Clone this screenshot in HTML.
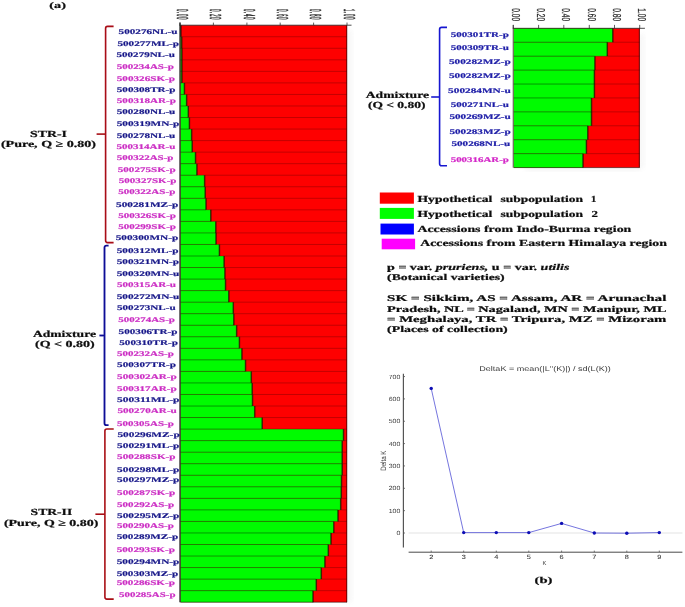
<!DOCTYPE html>
<html><head><meta charset="utf-8"><title>Figure</title>
<style>
html,body{margin:0;padding:0;background:#fff;}
body{width:685px;height:607px;overflow:hidden;font-family:"Liberation Serif",serif;}
svg{display:block;}
</style></head>
<body>
<svg width="685" height="607" viewBox="0 0 685 607" text-rendering="geometricPrecision">
<rect x="0" y="0" width="685" height="607" fill="#ffffff"/>
<defs><filter id="bl" x="-5%" y="-5%" width="110%" height="110%"><feGaussianBlur stdDeviation="0.65"/></filter><filter id="bl2" x="-20%" y="-20%" width="140%" height="140%"><feGaussianBlur stdDeviation="2.5"/></filter></defs>
<rect x="344" y="30" width="8" height="572" fill="#e4e4e4" opacity="0.32" filter="url(#bl2)"/>
<rect x="525" y="166" width="115" height="5" fill="#e4e4e4" opacity="0.35" filter="url(#bl2)"/>
<rect x="638" y="34" width="6" height="134" fill="#e4e4e4" opacity="0.32" filter="url(#bl2)"/>
<g filter="url(#bl)">
<rect x="180.5" y="25.2" width="166.5" height="577.0" fill="#fe0000"/>
<rect x="180.5" y="25.20" width="0.40" height="11.59" fill="#06fb06"/>
<rect x="180.5" y="36.74" width="1.20" height="11.59" fill="#06fb06"/>
<rect x="180.5" y="48.28" width="1.40" height="11.59" fill="#06fb06"/>
<rect x="180.5" y="59.82" width="1.40" height="11.59" fill="#06fb06"/>
<rect x="180.5" y="71.36" width="1.40" height="11.59" fill="#06fb06"/>
<rect x="180.5" y="82.90" width="3.90" height="11.59" fill="#06fb06"/>
<rect x="180.5" y="94.44" width="6.10" height="11.59" fill="#06fb06"/>
<rect x="180.5" y="105.98" width="7.80" height="11.59" fill="#06fb06"/>
<rect x="180.5" y="117.52" width="8.90" height="11.59" fill="#06fb06"/>
<rect x="180.5" y="129.06" width="11.10" height="11.59" fill="#06fb06"/>
<rect x="180.5" y="140.60" width="11.70" height="11.59" fill="#06fb06"/>
<rect x="180.5" y="152.14" width="15.00" height="11.59" fill="#06fb06"/>
<rect x="180.5" y="163.68" width="16.40" height="11.59" fill="#06fb06"/>
<rect x="180.5" y="175.22" width="24.10" height="11.59" fill="#06fb06"/>
<rect x="180.5" y="186.76" width="24.70" height="11.59" fill="#06fb06"/>
<rect x="180.5" y="198.30" width="25.50" height="11.59" fill="#06fb06"/>
<rect x="180.5" y="209.84" width="30.30" height="11.59" fill="#06fb06"/>
<rect x="180.5" y="221.38" width="35.30" height="11.59" fill="#06fb06"/>
<rect x="180.5" y="232.92" width="35.50" height="11.59" fill="#06fb06"/>
<rect x="180.5" y="244.46" width="38.90" height="11.59" fill="#06fb06"/>
<rect x="180.5" y="256.00" width="43.60" height="11.59" fill="#06fb06"/>
<rect x="180.5" y="267.54" width="44.40" height="11.59" fill="#06fb06"/>
<rect x="180.5" y="279.08" width="45.00" height="11.59" fill="#06fb06"/>
<rect x="180.5" y="290.62" width="48.30" height="11.59" fill="#06fb06"/>
<rect x="180.5" y="302.16" width="52.80" height="11.59" fill="#06fb06"/>
<rect x="180.5" y="313.70" width="53.30" height="11.59" fill="#06fb06"/>
<rect x="180.5" y="325.24" width="56.10" height="11.59" fill="#06fb06"/>
<rect x="180.5" y="336.78" width="58.90" height="11.59" fill="#06fb06"/>
<rect x="180.5" y="348.32" width="61.40" height="11.59" fill="#06fb06"/>
<rect x="180.5" y="359.86" width="65.00" height="11.59" fill="#06fb06"/>
<rect x="180.5" y="371.40" width="70.80" height="11.59" fill="#06fb06"/>
<rect x="180.5" y="382.94" width="71.70" height="11.59" fill="#06fb06"/>
<rect x="180.5" y="394.48" width="72.00" height="11.59" fill="#06fb06"/>
<rect x="180.5" y="406.02" width="74.20" height="11.59" fill="#06fb06"/>
<rect x="180.5" y="417.56" width="81.70" height="11.59" fill="#06fb06"/>
<rect x="180.5" y="429.10" width="163.00" height="11.59" fill="#06fb06"/>
<rect x="180.5" y="440.64" width="161.70" height="11.59" fill="#06fb06"/>
<rect x="180.5" y="452.18" width="161.70" height="11.59" fill="#06fb06"/>
<rect x="180.5" y="463.72" width="161.70" height="11.59" fill="#06fb06"/>
<rect x="180.5" y="475.26" width="161.00" height="11.59" fill="#06fb06"/>
<rect x="180.5" y="486.80" width="160.80" height="11.59" fill="#06fb06"/>
<rect x="180.5" y="498.34" width="160.20" height="11.59" fill="#06fb06"/>
<rect x="180.5" y="509.88" width="157.50" height="11.59" fill="#06fb06"/>
<rect x="180.5" y="521.42" width="153.30" height="11.59" fill="#06fb06"/>
<rect x="180.5" y="532.96" width="150.50" height="11.59" fill="#06fb06"/>
<rect x="180.5" y="544.50" width="147.80" height="11.59" fill="#06fb06"/>
<rect x="180.5" y="556.04" width="144.40" height="11.59" fill="#06fb06"/>
<rect x="180.5" y="567.58" width="140.80" height="11.59" fill="#06fb06"/>
<rect x="180.5" y="579.12" width="135.80" height="11.59" fill="#06fb06"/>
<rect x="180.5" y="590.66" width="132.50" height="11.59" fill="#06fb06"/>
<line x1="180.90" y1="25.20" x2="180.90" y2="36.74" stroke="#180800" stroke-opacity="0.7" stroke-width="1.5"/>
<line x1="181.70" y1="36.74" x2="181.70" y2="48.28" stroke="#180800" stroke-opacity="0.7" stroke-width="1.5"/>
<line x1="181.90" y1="48.28" x2="181.90" y2="59.82" stroke="#180800" stroke-opacity="0.7" stroke-width="1.5"/>
<line x1="181.90" y1="59.82" x2="181.90" y2="71.36" stroke="#180800" stroke-opacity="0.7" stroke-width="1.5"/>
<line x1="181.90" y1="71.36" x2="181.90" y2="82.90" stroke="#180800" stroke-opacity="0.7" stroke-width="1.5"/>
<line x1="184.40" y1="82.90" x2="184.40" y2="94.44" stroke="#180800" stroke-opacity="0.7" stroke-width="1.5"/>
<line x1="186.60" y1="94.44" x2="186.60" y2="105.98" stroke="#180800" stroke-opacity="0.7" stroke-width="1.5"/>
<line x1="188.30" y1="105.98" x2="188.30" y2="117.52" stroke="#180800" stroke-opacity="0.7" stroke-width="1.5"/>
<line x1="189.40" y1="117.52" x2="189.40" y2="129.06" stroke="#180800" stroke-opacity="0.7" stroke-width="1.5"/>
<line x1="191.60" y1="129.06" x2="191.60" y2="140.60" stroke="#180800" stroke-opacity="0.7" stroke-width="1.5"/>
<line x1="192.20" y1="140.60" x2="192.20" y2="152.14" stroke="#180800" stroke-opacity="0.7" stroke-width="1.5"/>
<line x1="195.50" y1="152.14" x2="195.50" y2="163.68" stroke="#180800" stroke-opacity="0.7" stroke-width="1.5"/>
<line x1="196.90" y1="163.68" x2="196.90" y2="175.22" stroke="#180800" stroke-opacity="0.7" stroke-width="1.5"/>
<line x1="204.60" y1="175.22" x2="204.60" y2="186.76" stroke="#180800" stroke-opacity="0.7" stroke-width="1.5"/>
<line x1="205.20" y1="186.76" x2="205.20" y2="198.30" stroke="#180800" stroke-opacity="0.7" stroke-width="1.5"/>
<line x1="206.00" y1="198.30" x2="206.00" y2="209.84" stroke="#180800" stroke-opacity="0.7" stroke-width="1.5"/>
<line x1="210.80" y1="209.84" x2="210.80" y2="221.38" stroke="#180800" stroke-opacity="0.7" stroke-width="1.5"/>
<line x1="215.80" y1="221.38" x2="215.80" y2="232.92" stroke="#180800" stroke-opacity="0.7" stroke-width="1.5"/>
<line x1="216.00" y1="232.92" x2="216.00" y2="244.46" stroke="#180800" stroke-opacity="0.7" stroke-width="1.5"/>
<line x1="219.40" y1="244.46" x2="219.40" y2="256.00" stroke="#180800" stroke-opacity="0.7" stroke-width="1.5"/>
<line x1="224.10" y1="256.00" x2="224.10" y2="267.54" stroke="#180800" stroke-opacity="0.7" stroke-width="1.5"/>
<line x1="224.90" y1="267.54" x2="224.90" y2="279.08" stroke="#180800" stroke-opacity="0.7" stroke-width="1.5"/>
<line x1="225.50" y1="279.08" x2="225.50" y2="290.62" stroke="#180800" stroke-opacity="0.7" stroke-width="1.5"/>
<line x1="228.80" y1="290.62" x2="228.80" y2="302.16" stroke="#180800" stroke-opacity="0.7" stroke-width="1.5"/>
<line x1="233.30" y1="302.16" x2="233.30" y2="313.70" stroke="#180800" stroke-opacity="0.7" stroke-width="1.5"/>
<line x1="233.80" y1="313.70" x2="233.80" y2="325.24" stroke="#180800" stroke-opacity="0.7" stroke-width="1.5"/>
<line x1="236.60" y1="325.24" x2="236.60" y2="336.78" stroke="#180800" stroke-opacity="0.7" stroke-width="1.5"/>
<line x1="239.40" y1="336.78" x2="239.40" y2="348.32" stroke="#180800" stroke-opacity="0.7" stroke-width="1.5"/>
<line x1="241.90" y1="348.32" x2="241.90" y2="359.86" stroke="#180800" stroke-opacity="0.7" stroke-width="1.5"/>
<line x1="245.50" y1="359.86" x2="245.50" y2="371.40" stroke="#180800" stroke-opacity="0.7" stroke-width="1.5"/>
<line x1="251.30" y1="371.40" x2="251.30" y2="382.94" stroke="#180800" stroke-opacity="0.7" stroke-width="1.5"/>
<line x1="252.20" y1="382.94" x2="252.20" y2="394.48" stroke="#180800" stroke-opacity="0.7" stroke-width="1.5"/>
<line x1="252.50" y1="394.48" x2="252.50" y2="406.02" stroke="#180800" stroke-opacity="0.7" stroke-width="1.5"/>
<line x1="254.70" y1="406.02" x2="254.70" y2="417.56" stroke="#180800" stroke-opacity="0.7" stroke-width="1.5"/>
<line x1="262.20" y1="417.56" x2="262.20" y2="429.10" stroke="#180800" stroke-opacity="0.7" stroke-width="1.5"/>
<line x1="343.50" y1="429.10" x2="343.50" y2="440.64" stroke="#180800" stroke-opacity="0.7" stroke-width="1.5"/>
<line x1="342.20" y1="440.64" x2="342.20" y2="452.18" stroke="#180800" stroke-opacity="0.7" stroke-width="1.5"/>
<line x1="342.20" y1="452.18" x2="342.20" y2="463.72" stroke="#180800" stroke-opacity="0.7" stroke-width="1.5"/>
<line x1="342.20" y1="463.72" x2="342.20" y2="475.26" stroke="#180800" stroke-opacity="0.7" stroke-width="1.5"/>
<line x1="341.50" y1="475.26" x2="341.50" y2="486.80" stroke="#180800" stroke-opacity="0.7" stroke-width="1.5"/>
<line x1="341.30" y1="486.80" x2="341.30" y2="498.34" stroke="#180800" stroke-opacity="0.7" stroke-width="1.5"/>
<line x1="340.70" y1="498.34" x2="340.70" y2="509.88" stroke="#180800" stroke-opacity="0.7" stroke-width="1.5"/>
<line x1="338.00" y1="509.88" x2="338.00" y2="521.42" stroke="#180800" stroke-opacity="0.7" stroke-width="1.5"/>
<line x1="333.80" y1="521.42" x2="333.80" y2="532.96" stroke="#180800" stroke-opacity="0.7" stroke-width="1.5"/>
<line x1="331.00" y1="532.96" x2="331.00" y2="544.50" stroke="#180800" stroke-opacity="0.7" stroke-width="1.5"/>
<line x1="328.30" y1="544.50" x2="328.30" y2="556.04" stroke="#180800" stroke-opacity="0.7" stroke-width="1.5"/>
<line x1="324.90" y1="556.04" x2="324.90" y2="567.58" stroke="#180800" stroke-opacity="0.7" stroke-width="1.5"/>
<line x1="321.30" y1="567.58" x2="321.30" y2="579.12" stroke="#180800" stroke-opacity="0.7" stroke-width="1.5"/>
<line x1="316.30" y1="579.12" x2="316.30" y2="590.66" stroke="#180800" stroke-opacity="0.7" stroke-width="1.5"/>
<line x1="313.00" y1="590.66" x2="313.00" y2="602.20" stroke="#180800" stroke-opacity="0.7" stroke-width="1.5"/>
<line x1="180.5" y1="36.74" x2="180.90" y2="36.74" stroke="#003000" stroke-opacity="0.5" stroke-width="0.95"/>
<line x1="180.90" y1="36.74" x2="347.0" y2="36.74" stroke="#300000" stroke-opacity="0.3" stroke-width="0.95"/>
<line x1="180.5" y1="48.28" x2="181.70" y2="48.28" stroke="#003000" stroke-opacity="0.5" stroke-width="0.95"/>
<line x1="181.70" y1="48.28" x2="347.0" y2="48.28" stroke="#300000" stroke-opacity="0.3" stroke-width="0.95"/>
<line x1="180.5" y1="59.82" x2="181.90" y2="59.82" stroke="#003000" stroke-opacity="0.5" stroke-width="0.95"/>
<line x1="181.90" y1="59.82" x2="347.0" y2="59.82" stroke="#300000" stroke-opacity="0.3" stroke-width="0.95"/>
<line x1="180.5" y1="71.36" x2="181.90" y2="71.36" stroke="#003000" stroke-opacity="0.5" stroke-width="0.95"/>
<line x1="181.90" y1="71.36" x2="347.0" y2="71.36" stroke="#300000" stroke-opacity="0.3" stroke-width="0.95"/>
<line x1="180.5" y1="82.90" x2="181.90" y2="82.90" stroke="#003000" stroke-opacity="0.5" stroke-width="0.95"/>
<line x1="181.90" y1="82.90" x2="347.0" y2="82.90" stroke="#300000" stroke-opacity="0.3" stroke-width="0.95"/>
<line x1="180.5" y1="94.44" x2="184.40" y2="94.44" stroke="#003000" stroke-opacity="0.5" stroke-width="0.95"/>
<line x1="184.40" y1="94.44" x2="347.0" y2="94.44" stroke="#300000" stroke-opacity="0.3" stroke-width="0.95"/>
<line x1="180.5" y1="105.98" x2="186.60" y2="105.98" stroke="#003000" stroke-opacity="0.5" stroke-width="0.95"/>
<line x1="186.60" y1="105.98" x2="347.0" y2="105.98" stroke="#300000" stroke-opacity="0.3" stroke-width="0.95"/>
<line x1="180.5" y1="117.52" x2="188.30" y2="117.52" stroke="#003000" stroke-opacity="0.5" stroke-width="0.95"/>
<line x1="188.30" y1="117.52" x2="347.0" y2="117.52" stroke="#300000" stroke-opacity="0.3" stroke-width="0.95"/>
<line x1="180.5" y1="129.06" x2="189.40" y2="129.06" stroke="#003000" stroke-opacity="0.5" stroke-width="0.95"/>
<line x1="189.40" y1="129.06" x2="347.0" y2="129.06" stroke="#300000" stroke-opacity="0.3" stroke-width="0.95"/>
<line x1="180.5" y1="140.60" x2="191.60" y2="140.60" stroke="#003000" stroke-opacity="0.5" stroke-width="0.95"/>
<line x1="191.60" y1="140.60" x2="347.0" y2="140.60" stroke="#300000" stroke-opacity="0.3" stroke-width="0.95"/>
<line x1="180.5" y1="152.14" x2="192.20" y2="152.14" stroke="#003000" stroke-opacity="0.5" stroke-width="0.95"/>
<line x1="192.20" y1="152.14" x2="347.0" y2="152.14" stroke="#300000" stroke-opacity="0.3" stroke-width="0.95"/>
<line x1="180.5" y1="163.68" x2="195.50" y2="163.68" stroke="#003000" stroke-opacity="0.5" stroke-width="0.95"/>
<line x1="195.50" y1="163.68" x2="347.0" y2="163.68" stroke="#300000" stroke-opacity="0.3" stroke-width="0.95"/>
<line x1="180.5" y1="175.22" x2="196.90" y2="175.22" stroke="#003000" stroke-opacity="0.5" stroke-width="0.95"/>
<line x1="196.90" y1="175.22" x2="347.0" y2="175.22" stroke="#300000" stroke-opacity="0.3" stroke-width="0.95"/>
<line x1="180.5" y1="186.76" x2="204.60" y2="186.76" stroke="#003000" stroke-opacity="0.5" stroke-width="0.95"/>
<line x1="204.60" y1="186.76" x2="347.0" y2="186.76" stroke="#300000" stroke-opacity="0.3" stroke-width="0.95"/>
<line x1="180.5" y1="198.30" x2="205.20" y2="198.30" stroke="#003000" stroke-opacity="0.5" stroke-width="0.95"/>
<line x1="205.20" y1="198.30" x2="347.0" y2="198.30" stroke="#300000" stroke-opacity="0.3" stroke-width="0.95"/>
<line x1="180.5" y1="209.84" x2="206.00" y2="209.84" stroke="#003000" stroke-opacity="0.5" stroke-width="0.95"/>
<line x1="206.00" y1="209.84" x2="347.0" y2="209.84" stroke="#300000" stroke-opacity="0.3" stroke-width="0.95"/>
<line x1="180.5" y1="221.38" x2="210.80" y2="221.38" stroke="#003000" stroke-opacity="0.5" stroke-width="0.95"/>
<line x1="210.80" y1="221.38" x2="347.0" y2="221.38" stroke="#300000" stroke-opacity="0.3" stroke-width="0.95"/>
<line x1="180.5" y1="232.92" x2="215.80" y2="232.92" stroke="#003000" stroke-opacity="0.5" stroke-width="0.95"/>
<line x1="215.80" y1="232.92" x2="347.0" y2="232.92" stroke="#300000" stroke-opacity="0.3" stroke-width="0.95"/>
<line x1="180.5" y1="244.46" x2="216.00" y2="244.46" stroke="#003000" stroke-opacity="0.5" stroke-width="0.95"/>
<line x1="216.00" y1="244.46" x2="347.0" y2="244.46" stroke="#300000" stroke-opacity="0.3" stroke-width="0.95"/>
<line x1="180.5" y1="256.00" x2="219.40" y2="256.00" stroke="#003000" stroke-opacity="0.5" stroke-width="0.95"/>
<line x1="219.40" y1="256.00" x2="347.0" y2="256.00" stroke="#300000" stroke-opacity="0.3" stroke-width="0.95"/>
<line x1="180.5" y1="267.54" x2="224.10" y2="267.54" stroke="#003000" stroke-opacity="0.5" stroke-width="0.95"/>
<line x1="224.10" y1="267.54" x2="347.0" y2="267.54" stroke="#300000" stroke-opacity="0.3" stroke-width="0.95"/>
<line x1="180.5" y1="279.08" x2="224.90" y2="279.08" stroke="#003000" stroke-opacity="0.5" stroke-width="0.95"/>
<line x1="224.90" y1="279.08" x2="347.0" y2="279.08" stroke="#300000" stroke-opacity="0.3" stroke-width="0.95"/>
<line x1="180.5" y1="290.62" x2="225.50" y2="290.62" stroke="#003000" stroke-opacity="0.5" stroke-width="0.95"/>
<line x1="225.50" y1="290.62" x2="347.0" y2="290.62" stroke="#300000" stroke-opacity="0.3" stroke-width="0.95"/>
<line x1="180.5" y1="302.16" x2="228.80" y2="302.16" stroke="#003000" stroke-opacity="0.5" stroke-width="0.95"/>
<line x1="228.80" y1="302.16" x2="347.0" y2="302.16" stroke="#300000" stroke-opacity="0.3" stroke-width="0.95"/>
<line x1="180.5" y1="313.70" x2="233.30" y2="313.70" stroke="#003000" stroke-opacity="0.5" stroke-width="0.95"/>
<line x1="233.30" y1="313.70" x2="347.0" y2="313.70" stroke="#300000" stroke-opacity="0.3" stroke-width="0.95"/>
<line x1="180.5" y1="325.24" x2="233.80" y2="325.24" stroke="#003000" stroke-opacity="0.5" stroke-width="0.95"/>
<line x1="233.80" y1="325.24" x2="347.0" y2="325.24" stroke="#300000" stroke-opacity="0.3" stroke-width="0.95"/>
<line x1="180.5" y1="336.78" x2="236.60" y2="336.78" stroke="#003000" stroke-opacity="0.5" stroke-width="0.95"/>
<line x1="236.60" y1="336.78" x2="347.0" y2="336.78" stroke="#300000" stroke-opacity="0.3" stroke-width="0.95"/>
<line x1="180.5" y1="348.32" x2="239.40" y2="348.32" stroke="#003000" stroke-opacity="0.5" stroke-width="0.95"/>
<line x1="239.40" y1="348.32" x2="347.0" y2="348.32" stroke="#300000" stroke-opacity="0.3" stroke-width="0.95"/>
<line x1="180.5" y1="359.86" x2="241.90" y2="359.86" stroke="#003000" stroke-opacity="0.5" stroke-width="0.95"/>
<line x1="241.90" y1="359.86" x2="347.0" y2="359.86" stroke="#300000" stroke-opacity="0.3" stroke-width="0.95"/>
<line x1="180.5" y1="371.40" x2="245.50" y2="371.40" stroke="#003000" stroke-opacity="0.5" stroke-width="0.95"/>
<line x1="245.50" y1="371.40" x2="347.0" y2="371.40" stroke="#300000" stroke-opacity="0.3" stroke-width="0.95"/>
<line x1="180.5" y1="382.94" x2="251.30" y2="382.94" stroke="#003000" stroke-opacity="0.5" stroke-width="0.95"/>
<line x1="251.30" y1="382.94" x2="347.0" y2="382.94" stroke="#300000" stroke-opacity="0.3" stroke-width="0.95"/>
<line x1="180.5" y1="394.48" x2="252.20" y2="394.48" stroke="#003000" stroke-opacity="0.5" stroke-width="0.95"/>
<line x1="252.20" y1="394.48" x2="347.0" y2="394.48" stroke="#300000" stroke-opacity="0.3" stroke-width="0.95"/>
<line x1="180.5" y1="406.02" x2="252.50" y2="406.02" stroke="#003000" stroke-opacity="0.5" stroke-width="0.95"/>
<line x1="252.50" y1="406.02" x2="347.0" y2="406.02" stroke="#300000" stroke-opacity="0.3" stroke-width="0.95"/>
<line x1="180.5" y1="417.56" x2="254.70" y2="417.56" stroke="#003000" stroke-opacity="0.5" stroke-width="0.95"/>
<line x1="254.70" y1="417.56" x2="347.0" y2="417.56" stroke="#300000" stroke-opacity="0.3" stroke-width="0.95"/>
<line x1="180.5" y1="429.10" x2="262.20" y2="429.10" stroke="#003000" stroke-opacity="0.5" stroke-width="0.95"/>
<line x1="262.20" y1="429.10" x2="347.0" y2="429.10" stroke="#300000" stroke-opacity="0.3" stroke-width="0.95"/>
<line x1="180.5" y1="440.64" x2="342.20" y2="440.64" stroke="#003000" stroke-opacity="0.5" stroke-width="0.95"/>
<line x1="342.20" y1="440.64" x2="347.0" y2="440.64" stroke="#300000" stroke-opacity="0.3" stroke-width="0.95"/>
<line x1="180.5" y1="452.18" x2="342.20" y2="452.18" stroke="#003000" stroke-opacity="0.5" stroke-width="0.95"/>
<line x1="342.20" y1="452.18" x2="347.0" y2="452.18" stroke="#300000" stroke-opacity="0.3" stroke-width="0.95"/>
<line x1="180.5" y1="463.72" x2="342.20" y2="463.72" stroke="#003000" stroke-opacity="0.5" stroke-width="0.95"/>
<line x1="342.20" y1="463.72" x2="347.0" y2="463.72" stroke="#300000" stroke-opacity="0.3" stroke-width="0.95"/>
<line x1="180.5" y1="475.26" x2="341.50" y2="475.26" stroke="#003000" stroke-opacity="0.5" stroke-width="0.95"/>
<line x1="341.50" y1="475.26" x2="347.0" y2="475.26" stroke="#300000" stroke-opacity="0.3" stroke-width="0.95"/>
<line x1="180.5" y1="486.80" x2="341.30" y2="486.80" stroke="#003000" stroke-opacity="0.5" stroke-width="0.95"/>
<line x1="341.30" y1="486.80" x2="347.0" y2="486.80" stroke="#300000" stroke-opacity="0.3" stroke-width="0.95"/>
<line x1="180.5" y1="498.34" x2="340.70" y2="498.34" stroke="#003000" stroke-opacity="0.5" stroke-width="0.95"/>
<line x1="340.70" y1="498.34" x2="347.0" y2="498.34" stroke="#300000" stroke-opacity="0.3" stroke-width="0.95"/>
<line x1="180.5" y1="509.88" x2="338.00" y2="509.88" stroke="#003000" stroke-opacity="0.5" stroke-width="0.95"/>
<line x1="338.00" y1="509.88" x2="347.0" y2="509.88" stroke="#300000" stroke-opacity="0.3" stroke-width="0.95"/>
<line x1="180.5" y1="521.42" x2="333.80" y2="521.42" stroke="#003000" stroke-opacity="0.5" stroke-width="0.95"/>
<line x1="333.80" y1="521.42" x2="347.0" y2="521.42" stroke="#300000" stroke-opacity="0.3" stroke-width="0.95"/>
<line x1="180.5" y1="532.96" x2="331.00" y2="532.96" stroke="#003000" stroke-opacity="0.5" stroke-width="0.95"/>
<line x1="331.00" y1="532.96" x2="347.0" y2="532.96" stroke="#300000" stroke-opacity="0.3" stroke-width="0.95"/>
<line x1="180.5" y1="544.50" x2="328.30" y2="544.50" stroke="#003000" stroke-opacity="0.5" stroke-width="0.95"/>
<line x1="328.30" y1="544.50" x2="347.0" y2="544.50" stroke="#300000" stroke-opacity="0.3" stroke-width="0.95"/>
<line x1="180.5" y1="556.04" x2="324.90" y2="556.04" stroke="#003000" stroke-opacity="0.5" stroke-width="0.95"/>
<line x1="324.90" y1="556.04" x2="347.0" y2="556.04" stroke="#300000" stroke-opacity="0.3" stroke-width="0.95"/>
<line x1="180.5" y1="567.58" x2="321.30" y2="567.58" stroke="#003000" stroke-opacity="0.5" stroke-width="0.95"/>
<line x1="321.30" y1="567.58" x2="347.0" y2="567.58" stroke="#300000" stroke-opacity="0.3" stroke-width="0.95"/>
<line x1="180.5" y1="579.12" x2="316.30" y2="579.12" stroke="#003000" stroke-opacity="0.5" stroke-width="0.95"/>
<line x1="316.30" y1="579.12" x2="347.0" y2="579.12" stroke="#300000" stroke-opacity="0.3" stroke-width="0.95"/>
<line x1="180.5" y1="590.66" x2="313.00" y2="590.66" stroke="#003000" stroke-opacity="0.5" stroke-width="0.95"/>
<line x1="313.00" y1="590.66" x2="347.0" y2="590.66" stroke="#300000" stroke-opacity="0.3" stroke-width="0.95"/>
<line x1="180.0" y1="22.599999999999998" x2="180.0" y2="602.2" stroke="#111" stroke-opacity="0.85" stroke-width="1.4"/>
<line x1="346.7" y1="25.2" x2="346.7" y2="602.2" stroke="#400" stroke-opacity="0.7" stroke-width="1.2"/>
<line x1="180.5" y1="602.2" x2="347.0" y2="602.2" stroke="#000" stroke-opacity="0.5" stroke-width="1"/>
<line x1="179.5" y1="25.2" x2="351.5" y2="25.2" stroke="#222" stroke-opacity="0.8" stroke-width="1"/>
<line x1="180.0" y1="22.599999999999998" x2="180.0" y2="25.2" stroke="#222" stroke-opacity="0.8" stroke-width="0.9"/>
<line x1="213.4" y1="22.599999999999998" x2="213.4" y2="25.2" stroke="#222" stroke-opacity="0.8" stroke-width="0.9"/>
<line x1="246.9" y1="22.599999999999998" x2="246.9" y2="25.2" stroke="#222" stroke-opacity="0.8" stroke-width="0.9"/>
<line x1="280.2" y1="22.599999999999998" x2="280.2" y2="25.2" stroke="#222" stroke-opacity="0.8" stroke-width="0.9"/>
<line x1="313.6" y1="22.599999999999998" x2="313.6" y2="25.2" stroke="#222" stroke-opacity="0.8" stroke-width="0.9"/>
<line x1="347.0" y1="22.599999999999998" x2="347.0" y2="25.2" stroke="#222" stroke-opacity="0.8" stroke-width="0.9"/>
<text transform="translate(176.70,9.0) rotate(90) scale(1,3.538)" font-size="4.5" font-family="Liberation Sans, sans-serif" fill="#303030" stroke="#303030" stroke-width="0.18" vector-effect="non-scaling-stroke" textLength="10.6" lengthAdjust="spacing">0.00</text>
<text transform="translate(210.10,9.0) rotate(90) scale(1,3.538)" font-size="4.5" font-family="Liberation Sans, sans-serif" fill="#303030" stroke="#303030" stroke-width="0.18" vector-effect="non-scaling-stroke" textLength="10.6" lengthAdjust="spacing">0.20</text>
<text transform="translate(243.60,9.0) rotate(90) scale(1,3.538)" font-size="4.5" font-family="Liberation Sans, sans-serif" fill="#303030" stroke="#303030" stroke-width="0.18" vector-effect="non-scaling-stroke" textLength="10.6" lengthAdjust="spacing">0.40</text>
<text transform="translate(276.90,9.0) rotate(90) scale(1,3.538)" font-size="4.5" font-family="Liberation Sans, sans-serif" fill="#303030" stroke="#303030" stroke-width="0.18" vector-effect="non-scaling-stroke" textLength="10.6" lengthAdjust="spacing">0.60</text>
<text transform="translate(310.30,9.0) rotate(90) scale(1,3.538)" font-size="4.5" font-family="Liberation Sans, sans-serif" fill="#303030" stroke="#303030" stroke-width="0.18" vector-effect="non-scaling-stroke" textLength="10.6" lengthAdjust="spacing">0.80</text>
<text transform="translate(343.70,9.0) rotate(90) scale(1,3.538)" font-size="4.5" font-family="Liberation Sans, sans-serif" fill="#303030" stroke="#303030" stroke-width="0.18" vector-effect="non-scaling-stroke" textLength="10.6" lengthAdjust="spacing">1.00</text>
<text x="118.60" y="34.00" font-size="7.25" font-family="Liberation Serif, serif" font-weight="bold" fill="#1a1a8a" textLength="58.90" lengthAdjust="spacingAndGlyphs"  stroke="#1a1a8a" stroke-width="0.2">500276NL-u</text>
<text x="117.40" y="46.00" font-size="7.25" font-family="Liberation Serif, serif" font-weight="bold" fill="#1a1a8a" textLength="61.50" lengthAdjust="spacingAndGlyphs"  stroke="#1a1a8a" stroke-width="0.2">500277ML-p</text>
<text x="116.60" y="57.30" font-size="7.25" font-family="Liberation Serif, serif" font-weight="bold" fill="#1a1a8a" textLength="58.20" lengthAdjust="spacingAndGlyphs"  stroke="#1a1a8a" stroke-width="0.2">500279NL-u</text>
<text x="116.80" y="68.80" font-size="7.25" font-family="Liberation Serif, serif" font-weight="bold" fill="#cc2fc4" textLength="57.00" lengthAdjust="spacingAndGlyphs"  stroke="#cc2fc4" stroke-width="0.2">500234AS-p</text>
<text x="116.80" y="80.60" font-size="7.25" font-family="Liberation Serif, serif" font-weight="bold" fill="#cc2fc4" textLength="58.20" lengthAdjust="spacingAndGlyphs"  stroke="#cc2fc4" stroke-width="0.2">500326SK-p</text>
<text x="116.80" y="91.60" font-size="7.25" font-family="Liberation Serif, serif" font-weight="bold" fill="#1a1a8a" textLength="58.70" lengthAdjust="spacingAndGlyphs"  stroke="#1a1a8a" stroke-width="0.2">500308TR-p</text>
<text x="116.80" y="102.80" font-size="7.25" font-family="Liberation Serif, serif" font-weight="bold" fill="#cc2fc4" textLength="59.20" lengthAdjust="spacingAndGlyphs"  stroke="#cc2fc4" stroke-width="0.2">500318AR-p</text>
<text x="116.70" y="114.20" font-size="7.25" font-family="Liberation Serif, serif" font-weight="bold" fill="#1a1a8a" textLength="58.60" lengthAdjust="spacingAndGlyphs"  stroke="#1a1a8a" stroke-width="0.2">500280NL-u</text>
<text x="116.70" y="126.00" font-size="7.25" font-family="Liberation Serif, serif" font-weight="bold" fill="#1a1a8a" textLength="62.70" lengthAdjust="spacingAndGlyphs"  stroke="#1a1a8a" stroke-width="0.2">500319MN-p</text>
<text x="116.70" y="137.70" font-size="7.25" font-family="Liberation Serif, serif" font-weight="bold" fill="#1a1a8a" textLength="58.60" lengthAdjust="spacingAndGlyphs"  stroke="#1a1a8a" stroke-width="0.2">500278NL-u</text>
<text x="116.40" y="148.60" font-size="7.25" font-family="Liberation Serif, serif" font-weight="bold" fill="#cc2fc4" textLength="58.90" lengthAdjust="spacingAndGlyphs"  stroke="#cc2fc4" stroke-width="0.2">500314AR-u</text>
<text x="116.70" y="159.90" font-size="7.25" font-family="Liberation Serif, serif" font-weight="bold" fill="#cc2fc4" textLength="56.80" lengthAdjust="spacingAndGlyphs"  stroke="#cc2fc4" stroke-width="0.2">500322AS-p</text>
<text x="117.80" y="171.50" font-size="7.25" font-family="Liberation Serif, serif" font-weight="bold" fill="#cc2fc4" textLength="57.80" lengthAdjust="spacingAndGlyphs"  stroke="#cc2fc4" stroke-width="0.2">500275SK-p</text>
<text x="118.80" y="183.00" font-size="7.25" font-family="Liberation Serif, serif" font-weight="bold" fill="#cc2fc4" textLength="57.70" lengthAdjust="spacingAndGlyphs"  stroke="#cc2fc4" stroke-width="0.2">500327SK-p</text>
<text x="118.20" y="194.30" font-size="7.25" font-family="Liberation Serif, serif" font-weight="bold" fill="#cc2fc4" textLength="57.10" lengthAdjust="spacingAndGlyphs"  stroke="#cc2fc4" stroke-width="0.2">500322AS-p</text>
<text x="116.00" y="207.00" font-size="7.25" font-family="Liberation Serif, serif" font-weight="bold" fill="#1a1a8a" textLength="62.20" lengthAdjust="spacingAndGlyphs"  stroke="#1a1a8a" stroke-width="0.2">500281MZ-p</text>
<text x="118.20" y="217.70" font-size="7.25" font-family="Liberation Serif, serif" font-weight="bold" fill="#cc2fc4" textLength="57.80" lengthAdjust="spacingAndGlyphs"  stroke="#cc2fc4" stroke-width="0.2">500326SK-p</text>
<text x="118.20" y="228.50" font-size="7.25" font-family="Liberation Serif, serif" font-weight="bold" fill="#cc2fc4" textLength="57.80" lengthAdjust="spacingAndGlyphs"  stroke="#cc2fc4" stroke-width="0.2">500299SK-p</text>
<text x="115.70" y="240.10" font-size="7.25" font-family="Liberation Serif, serif" font-weight="bold" fill="#1a1a8a" textLength="62.50" lengthAdjust="spacingAndGlyphs"  stroke="#1a1a8a" stroke-width="0.2">500300MN-p</text>
<text x="116.70" y="252.60" font-size="7.25" font-family="Liberation Serif, serif" font-weight="bold" fill="#1a1a8a" textLength="61.80" lengthAdjust="spacingAndGlyphs"  stroke="#1a1a8a" stroke-width="0.2">500312ML-p</text>
<text x="116.70" y="264.40" font-size="7.25" font-family="Liberation Serif, serif" font-weight="bold" fill="#1a1a8a" textLength="62.30" lengthAdjust="spacingAndGlyphs"  stroke="#1a1a8a" stroke-width="0.2">500321MN-p</text>
<text x="116.70" y="275.90" font-size="7.25" font-family="Liberation Serif, serif" font-weight="bold" fill="#1a1a8a" textLength="62.70" lengthAdjust="spacingAndGlyphs"  stroke="#1a1a8a" stroke-width="0.2">500320MN-u</text>
<text x="117.00" y="286.80" font-size="7.25" font-family="Liberation Serif, serif" font-weight="bold" fill="#cc2fc4" textLength="59.00" lengthAdjust="spacingAndGlyphs"  stroke="#cc2fc4" stroke-width="0.2">500315AR-u</text>
<text x="116.70" y="298.80" font-size="7.25" font-family="Liberation Serif, serif" font-weight="bold" fill="#1a1a8a" textLength="62.70" lengthAdjust="spacingAndGlyphs"  stroke="#1a1a8a" stroke-width="0.2">500272MN-u</text>
<text x="117.00" y="309.90" font-size="7.25" font-family="Liberation Serif, serif" font-weight="bold" fill="#1a1a8a" textLength="58.60" lengthAdjust="spacingAndGlyphs"  stroke="#1a1a8a" stroke-width="0.2">500273NL-u</text>
<text x="118.20" y="322.10" font-size="7.25" font-family="Liberation Serif, serif" font-weight="bold" fill="#cc2fc4" textLength="56.80" lengthAdjust="spacingAndGlyphs"  stroke="#cc2fc4" stroke-width="0.2">500274AS-p</text>
<text x="118.60" y="333.50" font-size="7.25" font-family="Liberation Serif, serif" font-weight="bold" fill="#1a1a8a" textLength="58.90" lengthAdjust="spacingAndGlyphs"  stroke="#1a1a8a" stroke-width="0.2">500306TR-p</text>
<text x="119.30" y="344.50" font-size="7.25" font-family="Liberation Serif, serif" font-weight="bold" fill="#1a1a8a" textLength="58.60" lengthAdjust="spacingAndGlyphs"  stroke="#1a1a8a" stroke-width="0.2">500310TR-p</text>
<text x="117.10" y="355.70" font-size="7.25" font-family="Liberation Serif, serif" font-weight="bold" fill="#cc2fc4" textLength="56.70" lengthAdjust="spacingAndGlyphs"  stroke="#cc2fc4" stroke-width="0.2">500232AS-p</text>
<text x="117.10" y="367.40" font-size="7.25" font-family="Liberation Serif, serif" font-weight="bold" fill="#1a1a8a" textLength="58.90" lengthAdjust="spacingAndGlyphs"  stroke="#1a1a8a" stroke-width="0.2">500307TR-p</text>
<text x="117.10" y="379.00" font-size="7.25" font-family="Liberation Serif, serif" font-weight="bold" fill="#cc2fc4" textLength="59.70" lengthAdjust="spacingAndGlyphs"  stroke="#cc2fc4" stroke-width="0.2">500302AR-p</text>
<text x="117.10" y="390.70" font-size="7.25" font-family="Liberation Serif, serif" font-weight="bold" fill="#cc2fc4" textLength="59.70" lengthAdjust="spacingAndGlyphs"  stroke="#cc2fc4" stroke-width="0.2">500317AR-p</text>
<text x="117.10" y="402.40" font-size="7.25" font-family="Liberation Serif, serif" font-weight="bold" fill="#1a1a8a" textLength="62.30" lengthAdjust="spacingAndGlyphs"  stroke="#1a1a8a" stroke-width="0.2">500311ML-p</text>
<text x="117.40" y="413.30" font-size="7.25" font-family="Liberation Serif, serif" font-weight="bold" fill="#cc2fc4" textLength="59.40" lengthAdjust="spacingAndGlyphs"  stroke="#cc2fc4" stroke-width="0.2">500270AR-u</text>
<text x="117.10" y="425.80" font-size="7.25" font-family="Liberation Serif, serif" font-weight="bold" fill="#cc2fc4" textLength="56.70" lengthAdjust="spacingAndGlyphs"  stroke="#cc2fc4" stroke-width="0.2">500305AS-p</text>
<text x="117.40" y="436.50" font-size="7.25" font-family="Liberation Serif, serif" font-weight="bold" fill="#1a1a8a" textLength="62.30" lengthAdjust="spacingAndGlyphs"  stroke="#1a1a8a" stroke-width="0.2">500296MZ-p</text>
<text x="117.10" y="448.20" font-size="7.25" font-family="Liberation Serif, serif" font-weight="bold" fill="#1a1a8a" textLength="62.30" lengthAdjust="spacingAndGlyphs"  stroke="#1a1a8a" stroke-width="0.2">500291ML-p</text>
<text x="117.10" y="459.30" font-size="7.25" font-family="Liberation Serif, serif" font-weight="bold" fill="#cc2fc4" textLength="58.50" lengthAdjust="spacingAndGlyphs"  stroke="#cc2fc4" stroke-width="0.2">500288SK-p</text>
<text x="117.10" y="471.50" font-size="7.25" font-family="Liberation Serif, serif" font-weight="bold" fill="#1a1a8a" textLength="62.30" lengthAdjust="spacingAndGlyphs"  stroke="#1a1a8a" stroke-width="0.2">500298ML-p</text>
<text x="117.10" y="482.20" font-size="7.25" font-family="Liberation Serif, serif" font-weight="bold" fill="#1a1a8a" textLength="62.30" lengthAdjust="spacingAndGlyphs"  stroke="#1a1a8a" stroke-width="0.2">500297MZ-p</text>
<text x="117.10" y="494.90" font-size="7.25" font-family="Liberation Serif, serif" font-weight="bold" fill="#cc2fc4" textLength="58.20" lengthAdjust="spacingAndGlyphs"  stroke="#cc2fc4" stroke-width="0.2">500287SK-p</text>
<text x="117.10" y="506.70" font-size="7.25" font-family="Liberation Serif, serif" font-weight="bold" fill="#cc2fc4" textLength="57.00" lengthAdjust="spacingAndGlyphs"  stroke="#cc2fc4" stroke-width="0.2">500292AS-p</text>
<text x="117.00" y="517.90" font-size="7.25" font-family="Liberation Serif, serif" font-weight="bold" fill="#1a1a8a" textLength="62.40" lengthAdjust="spacingAndGlyphs"  stroke="#1a1a8a" stroke-width="0.2">500295MZ-p</text>
<text x="117.00" y="527.70" font-size="7.25" font-family="Liberation Serif, serif" font-weight="bold" fill="#cc2fc4" textLength="56.80" lengthAdjust="spacingAndGlyphs"  stroke="#cc2fc4" stroke-width="0.2">500290AS-p</text>
<text x="116.70" y="539.00" font-size="7.25" font-family="Liberation Serif, serif" font-weight="bold" fill="#1a1a8a" textLength="61.50" lengthAdjust="spacingAndGlyphs"  stroke="#1a1a8a" stroke-width="0.2">500289MZ-p</text>
<text x="116.70" y="551.50" font-size="7.25" font-family="Liberation Serif, serif" font-weight="bold" fill="#cc2fc4" textLength="58.30" lengthAdjust="spacingAndGlyphs"  stroke="#cc2fc4" stroke-width="0.2">500293SK-p</text>
<text x="116.70" y="563.50" font-size="7.25" font-family="Liberation Serif, serif" font-weight="bold" fill="#1a1a8a" textLength="62.70" lengthAdjust="spacingAndGlyphs"  stroke="#1a1a8a" stroke-width="0.2">500294MN-p</text>
<text x="116.70" y="575.90" font-size="7.25" font-family="Liberation Serif, serif" font-weight="bold" fill="#1a1a8a" textLength="61.50" lengthAdjust="spacingAndGlyphs"  stroke="#1a1a8a" stroke-width="0.2">500303MZ-p</text>
<text x="116.70" y="585.40" font-size="7.25" font-family="Liberation Serif, serif" font-weight="bold" fill="#cc2fc4" textLength="58.30" lengthAdjust="spacingAndGlyphs"  stroke="#cc2fc4" stroke-width="0.2">500286SK-p</text>
<text x="119.00" y="597.00" font-size="7.25" font-family="Liberation Serif, serif" font-weight="bold" fill="#cc2fc4" textLength="56.50" lengthAdjust="spacingAndGlyphs"  stroke="#cc2fc4" stroke-width="0.2">500285AS-p</text>
<path d="M113.6,26.4 L107.6,26.4 Q105.6,26.4 105.6,28.4 L105.6,240.6 Q105.6,242.6 107.6,242.6 L113.6,242.6" fill="none" stroke="#a80c16" stroke-width="1.6"/>
<line x1="96.6" y1="134.1" x2="105.6" y2="134.1" stroke="#a80c16" stroke-width="1.6"/>
<path d="M108.6,245.6 L106.5,245.6 Q104.5,245.6 104.5,247.6 L104.5,423.2 Q104.5,425.2 106.5,425.2 L108.6,425.2" fill="none" stroke="#101096" stroke-width="1.8"/>
<line x1="99.4" y1="335.5" x2="104.5" y2="335.5" stroke="#101096" stroke-width="1.8"/>
<path d="M113.7,429.0 L106.9,429.0 Q104.9,429.0 104.9,431.0 L104.9,597.1 Q104.9,599.1 106.9,599.1 L113.7,599.1" fill="none" stroke="#a80c16" stroke-width="1.6"/>
<line x1="95.4" y1="514.2" x2="104.9" y2="514.2" stroke="#a80c16" stroke-width="1.6"/>
<text x="30.10" y="136.80" font-size="9.3" font-family="Liberation Serif, serif" font-weight="bold" fill="#111" textLength="36.80" lengthAdjust="spacingAndGlyphs"  stroke="#111" stroke-width="0.22">STR-I</text>
<text x="0.90" y="147.30" font-size="9.3" font-family="Liberation Serif, serif" font-weight="bold" fill="#111" textLength="95.10" lengthAdjust="spacingAndGlyphs"  stroke="#111" stroke-width="0.22">(Pure, Q ≥ 0.80)</text>
<text x="32.90" y="337.10" font-size="9.3" font-family="Liberation Serif, serif" font-weight="bold" fill="#111" textLength="63.10" lengthAdjust="spacingAndGlyphs"  stroke="#111" stroke-width="0.22">Admixture</text>
<text x="35.00" y="347.30" font-size="9.3" font-family="Liberation Serif, serif" font-weight="bold" fill="#111" textLength="59.60" lengthAdjust="spacingAndGlyphs"  stroke="#111" stroke-width="0.22">(Q &lt; 0.80)</text>
<text x="30.60" y="515.00" font-size="9.3" font-family="Liberation Serif, serif" font-weight="bold" fill="#111" textLength="41.60" lengthAdjust="spacingAndGlyphs"  stroke="#111" stroke-width="0.22">STR-II</text>
<text x="3.90" y="525.90" font-size="9.3" font-family="Liberation Serif, serif" font-weight="bold" fill="#111" textLength="94.50" lengthAdjust="spacingAndGlyphs"  stroke="#111" stroke-width="0.22">(Pure, Q ≥ 0.80)</text>
<text x="49.30" y="7.90" font-size="8.6" font-family="Liberation Serif, serif" font-weight="bold" fill="#111" textLength="16.60" lengthAdjust="spacingAndGlyphs"  stroke="#111" stroke-width="0.22">(a)</text>
<rect x="513.7" y="28.3" width="126.0" height="139.29999999999998" fill="#fe0000"/>
<rect x="513.7" y="28.30" width="99.10" height="13.98" fill="#06fb06"/>
<rect x="513.7" y="42.23" width="93.60" height="13.98" fill="#06fb06"/>
<rect x="513.7" y="56.16" width="81.20" height="13.98" fill="#06fb06"/>
<rect x="513.7" y="70.09" width="80.70" height="13.98" fill="#06fb06"/>
<rect x="513.7" y="84.02" width="80.70" height="13.98" fill="#06fb06"/>
<rect x="513.7" y="97.95" width="77.80" height="13.98" fill="#06fb06"/>
<rect x="513.7" y="111.88" width="77.80" height="13.98" fill="#06fb06"/>
<rect x="513.7" y="125.81" width="74.10" height="13.98" fill="#06fb06"/>
<rect x="513.7" y="139.74" width="72.70" height="13.98" fill="#06fb06"/>
<rect x="513.7" y="153.67" width="69.30" height="13.98" fill="#06fb06"/>
<line x1="612.80" y1="28.30" x2="612.80" y2="42.23" stroke="#180800" stroke-opacity="0.7" stroke-width="1.5"/>
<line x1="607.30" y1="42.23" x2="607.30" y2="56.16" stroke="#180800" stroke-opacity="0.7" stroke-width="1.5"/>
<line x1="594.90" y1="56.16" x2="594.90" y2="70.09" stroke="#180800" stroke-opacity="0.7" stroke-width="1.5"/>
<line x1="594.40" y1="70.09" x2="594.40" y2="84.02" stroke="#180800" stroke-opacity="0.7" stroke-width="1.5"/>
<line x1="594.40" y1="84.02" x2="594.40" y2="97.95" stroke="#180800" stroke-opacity="0.7" stroke-width="1.5"/>
<line x1="591.50" y1="97.95" x2="591.50" y2="111.88" stroke="#180800" stroke-opacity="0.7" stroke-width="1.5"/>
<line x1="591.50" y1="111.88" x2="591.50" y2="125.81" stroke="#180800" stroke-opacity="0.7" stroke-width="1.5"/>
<line x1="587.80" y1="125.81" x2="587.80" y2="139.74" stroke="#180800" stroke-opacity="0.7" stroke-width="1.5"/>
<line x1="586.40" y1="139.74" x2="586.40" y2="153.67" stroke="#180800" stroke-opacity="0.7" stroke-width="1.5"/>
<line x1="583.00" y1="153.67" x2="583.00" y2="167.60" stroke="#180800" stroke-opacity="0.7" stroke-width="1.5"/>
<line x1="513.7" y1="42.23" x2="607.30" y2="42.23" stroke="#003000" stroke-opacity="0.5" stroke-width="0.95"/>
<line x1="607.30" y1="42.23" x2="639.7" y2="42.23" stroke="#300000" stroke-opacity="0.3" stroke-width="0.95"/>
<line x1="513.7" y1="56.16" x2="594.90" y2="56.16" stroke="#003000" stroke-opacity="0.5" stroke-width="0.95"/>
<line x1="594.90" y1="56.16" x2="639.7" y2="56.16" stroke="#300000" stroke-opacity="0.3" stroke-width="0.95"/>
<line x1="513.7" y1="70.09" x2="594.40" y2="70.09" stroke="#003000" stroke-opacity="0.5" stroke-width="0.95"/>
<line x1="594.40" y1="70.09" x2="639.7" y2="70.09" stroke="#300000" stroke-opacity="0.3" stroke-width="0.95"/>
<line x1="513.7" y1="84.02" x2="594.40" y2="84.02" stroke="#003000" stroke-opacity="0.5" stroke-width="0.95"/>
<line x1="594.40" y1="84.02" x2="639.7" y2="84.02" stroke="#300000" stroke-opacity="0.3" stroke-width="0.95"/>
<line x1="513.7" y1="97.95" x2="591.50" y2="97.95" stroke="#003000" stroke-opacity="0.5" stroke-width="0.95"/>
<line x1="591.50" y1="97.95" x2="639.7" y2="97.95" stroke="#300000" stroke-opacity="0.3" stroke-width="0.95"/>
<line x1="513.7" y1="111.88" x2="591.50" y2="111.88" stroke="#003000" stroke-opacity="0.5" stroke-width="0.95"/>
<line x1="591.50" y1="111.88" x2="639.7" y2="111.88" stroke="#300000" stroke-opacity="0.3" stroke-width="0.95"/>
<line x1="513.7" y1="125.81" x2="587.80" y2="125.81" stroke="#003000" stroke-opacity="0.5" stroke-width="0.95"/>
<line x1="587.80" y1="125.81" x2="639.7" y2="125.81" stroke="#300000" stroke-opacity="0.3" stroke-width="0.95"/>
<line x1="513.7" y1="139.74" x2="586.40" y2="139.74" stroke="#003000" stroke-opacity="0.5" stroke-width="0.95"/>
<line x1="586.40" y1="139.74" x2="639.7" y2="139.74" stroke="#300000" stroke-opacity="0.3" stroke-width="0.95"/>
<line x1="513.7" y1="153.67" x2="583.00" y2="153.67" stroke="#003000" stroke-opacity="0.5" stroke-width="0.95"/>
<line x1="583.00" y1="153.67" x2="639.7" y2="153.67" stroke="#300000" stroke-opacity="0.3" stroke-width="0.95"/>
<line x1="513.2" y1="24.900000000000002" x2="513.2" y2="167.6" stroke="#111" stroke-opacity="0.7" stroke-width="0.9"/>
<line x1="639.4000000000001" y1="28.3" x2="639.4000000000001" y2="167.6" stroke="#400" stroke-opacity="0.7" stroke-width="1.2"/>
<line x1="513.7" y1="167.6" x2="639.7" y2="167.6" stroke="#000" stroke-opacity="0.5" stroke-width="1"/>
<line x1="512.7" y1="28.3" x2="644.9000000000001" y2="28.3" stroke="#222" stroke-opacity="0.8" stroke-width="1"/>
<line x1="513.3" y1="24.900000000000002" x2="513.3" y2="28.3" stroke="#222" stroke-opacity="0.8" stroke-width="0.9"/>
<line x1="538.6" y1="24.900000000000002" x2="538.6" y2="28.3" stroke="#222" stroke-opacity="0.8" stroke-width="0.9"/>
<line x1="563.8" y1="24.900000000000002" x2="563.8" y2="28.3" stroke="#222" stroke-opacity="0.8" stroke-width="0.9"/>
<line x1="589.3" y1="24.900000000000002" x2="589.3" y2="28.3" stroke="#222" stroke-opacity="0.8" stroke-width="0.9"/>
<line x1="614.5" y1="24.900000000000002" x2="614.5" y2="28.3" stroke="#222" stroke-opacity="0.8" stroke-width="0.9"/>
<line x1="639.7" y1="24.900000000000002" x2="639.7" y2="28.3" stroke="#222" stroke-opacity="0.8" stroke-width="0.9"/>
<text transform="translate(511.70,8.3) rotate(90) scale(1,1.709)" font-size="6.7" font-family="Liberation Sans, sans-serif" fill="#2a2a2a" stroke="#2a2a2a" stroke-width="0.15" vector-effect="non-scaling-stroke" textLength="13.0" lengthAdjust="spacingAndGlyphs">0.00</text>
<text transform="translate(537.00,8.3) rotate(90) scale(1,1.709)" font-size="6.7" font-family="Liberation Sans, sans-serif" fill="#2a2a2a" stroke="#2a2a2a" stroke-width="0.15" vector-effect="non-scaling-stroke" textLength="13.0" lengthAdjust="spacingAndGlyphs">0.20</text>
<text transform="translate(562.20,8.3) rotate(90) scale(1,1.709)" font-size="6.7" font-family="Liberation Sans, sans-serif" fill="#2a2a2a" stroke="#2a2a2a" stroke-width="0.15" vector-effect="non-scaling-stroke" textLength="13.0" lengthAdjust="spacingAndGlyphs">0.40</text>
<text transform="translate(587.70,8.3) rotate(90) scale(1,1.709)" font-size="6.7" font-family="Liberation Sans, sans-serif" fill="#2a2a2a" stroke="#2a2a2a" stroke-width="0.15" vector-effect="non-scaling-stroke" textLength="13.0" lengthAdjust="spacingAndGlyphs">0.60</text>
<text transform="translate(612.90,8.3) rotate(90) scale(1,1.709)" font-size="6.7" font-family="Liberation Sans, sans-serif" fill="#2a2a2a" stroke="#2a2a2a" stroke-width="0.15" vector-effect="non-scaling-stroke" textLength="13.0" lengthAdjust="spacingAndGlyphs">0.80</text>
<text transform="translate(638.10,8.3) rotate(90) scale(1,1.709)" font-size="6.7" font-family="Liberation Sans, sans-serif" fill="#2a2a2a" stroke="#2a2a2a" stroke-width="0.15" vector-effect="non-scaling-stroke" textLength="13.0" lengthAdjust="spacingAndGlyphs">1.00</text>
<text x="450.70" y="36.60" font-size="7.25" font-family="Liberation Serif, serif" font-weight="bold" fill="#2020a8" textLength="58.20" lengthAdjust="spacingAndGlyphs"  stroke="#2020a8" stroke-width="0.2">500301TR-p</text>
<text x="450.70" y="50.30" font-size="7.25" font-family="Liberation Serif, serif" font-weight="bold" fill="#2020a8" textLength="58.20" lengthAdjust="spacingAndGlyphs"  stroke="#2020a8" stroke-width="0.2">500309TR-u</text>
<text x="448.90" y="64.30" font-size="7.25" font-family="Liberation Serif, serif" font-weight="bold" fill="#2020a8" textLength="61.90" lengthAdjust="spacingAndGlyphs"  stroke="#2020a8" stroke-width="0.2">500282MZ-p</text>
<text x="448.90" y="78.00" font-size="7.25" font-family="Liberation Serif, serif" font-weight="bold" fill="#2020a8" textLength="61.90" lengthAdjust="spacingAndGlyphs"  stroke="#2020a8" stroke-width="0.2">500282MZ-p</text>
<text x="448.10" y="93.30" font-size="7.25" font-family="Liberation Serif, serif" font-weight="bold" fill="#2020a8" textLength="62.70" lengthAdjust="spacingAndGlyphs"  stroke="#2020a8" stroke-width="0.2">500284MN-u</text>
<text x="450.70" y="107.00" font-size="7.25" font-family="Liberation Serif, serif" font-weight="bold" fill="#2020a8" textLength="58.20" lengthAdjust="spacingAndGlyphs"  stroke="#2020a8" stroke-width="0.2">500271NL-u</text>
<text x="449.40" y="119.40" font-size="7.25" font-family="Liberation Serif, serif" font-weight="bold" fill="#2020a8" textLength="61.40" lengthAdjust="spacingAndGlyphs"  stroke="#2020a8" stroke-width="0.2">500269MZ-u</text>
<text x="449.40" y="133.90" font-size="7.25" font-family="Liberation Serif, serif" font-weight="bold" fill="#2020a8" textLength="61.40" lengthAdjust="spacingAndGlyphs"  stroke="#2020a8" stroke-width="0.2">500283MZ-p</text>
<text x="451.50" y="146.00" font-size="7.25" font-family="Liberation Serif, serif" font-weight="bold" fill="#2020a8" textLength="58.70" lengthAdjust="spacingAndGlyphs"  stroke="#2020a8" stroke-width="0.2">500268NL-u</text>
<text x="450.70" y="161.80" font-size="7.25" font-family="Liberation Serif, serif" font-weight="bold" fill="#d428c8" textLength="58.20" lengthAdjust="spacingAndGlyphs"  stroke="#d428c8" stroke-width="0.2">500316AR-p</text>
<path d="M447.0,27.4 L441.6,27.4 Q439.6,27.4 439.6,29.4 L439.6,163.8 Q439.6,165.8 441.6,165.8 L447.0,165.8" fill="none" stroke="#1818d0" stroke-width="1.6"/>
<line x1="431.2" y1="97.0" x2="439.6" y2="97.0" stroke="#1818d0" stroke-width="1.6"/>
<text x="365.80" y="98.30" font-size="9.3" font-family="Liberation Serif, serif" font-weight="bold" fill="#111" textLength="63.20" lengthAdjust="spacingAndGlyphs"  stroke="#111" stroke-width="0.22">Admixture</text>
<text x="367.90" y="108.30" font-size="9.3" font-family="Liberation Serif, serif" font-weight="bold" fill="#111" textLength="57.50" lengthAdjust="spacingAndGlyphs"  stroke="#111" stroke-width="0.22">(Q &lt; 0.80)</text>
<rect x="379.8" y="192.5" width="34.1" height="11.2" fill="#ff0000"/>
<rect x="379.8" y="207.9" width="34.1" height="11.0" fill="#00ff00"/>
<rect x="380.5" y="223.6" width="33.4" height="10.9" fill="#0000ff"/>
<rect x="381.7" y="238.7" width="33.4" height="10.6" fill="#ff00ff"/>
<text x="417.50" y="201.80" font-size="9.2" font-family="Liberation Serif, serif" font-weight="bold" fill="#111" textLength="74.80" lengthAdjust="spacingAndGlyphs"  stroke="#111" stroke-width="0.22">Hypothetical</text>
<text x="500.50" y="201.80" font-size="9.2" font-family="Liberation Serif, serif" font-weight="bold" fill="#111" textLength="82.40" lengthAdjust="spacingAndGlyphs"  stroke="#111" stroke-width="0.22">subpopulation</text>
<text x="591.00" y="201.80" font-size="9.2" font-family="Liberation Serif, serif" font-weight="bold" fill="#111" textLength="5.30" lengthAdjust="spacingAndGlyphs"  stroke="#111" stroke-width="0.22">1</text>
<text x="417.50" y="217.20" font-size="9.2" font-family="Liberation Serif, serif" font-weight="bold" fill="#111" textLength="74.80" lengthAdjust="spacingAndGlyphs"  stroke="#111" stroke-width="0.22">Hypothetical</text>
<text x="500.50" y="217.20" font-size="9.2" font-family="Liberation Serif, serif" font-weight="bold" fill="#111" textLength="82.40" lengthAdjust="spacingAndGlyphs"  stroke="#111" stroke-width="0.22">subpopulation</text>
<text x="591.50" y="217.20" font-size="9.2" font-family="Liberation Serif, serif" font-weight="bold" fill="#111" textLength="6.40" lengthAdjust="spacingAndGlyphs"  stroke="#111" stroke-width="0.22">2</text>
<text x="417.40" y="232.40" font-size="9.2" font-family="Liberation Serif, serif" font-weight="bold" fill="#111" textLength="213.90" lengthAdjust="spacingAndGlyphs"  stroke="#111" stroke-width="0.22">Accessions from Indo-Burma region</text>
<text x="420.20" y="245.90" font-size="9.2" font-family="Liberation Serif, serif" font-weight="bold" fill="#111" textLength="246.80" lengthAdjust="spacingAndGlyphs"  stroke="#111" stroke-width="0.22">Accessions from Eastern Himalaya region</text>
<text x="387.1" y="269.8" font-size="8.8" font-family="Liberation Serif, serif" font-weight="bold" fill="#111" stroke="#111" stroke-width="0.22" textLength="182.3" lengthAdjust="spacingAndGlyphs">p = var. <tspan font-style="italic">pruriens,</tspan> u = var. <tspan font-style="italic">utilis</tspan></text>
<text x="387.10" y="280.20" font-size="8.8" font-family="Liberation Serif, serif" font-weight="bold" fill="#111" textLength="117.60" lengthAdjust="spacingAndGlyphs"  stroke="#111" stroke-width="0.22">(Botanical varieties)</text>
<text x="387.10" y="301.20" font-size="8.8" font-family="Liberation Serif, serif" font-weight="bold" fill="#111" textLength="279.30" lengthAdjust="spacingAndGlyphs"  stroke="#111" stroke-width="0.22">SK = Sikkim, AS = Assam, AR = Arunachal</text>
<text x="387.10" y="311.70" font-size="8.8" font-family="Liberation Serif, serif" font-weight="bold" fill="#111" textLength="279.30" lengthAdjust="spacingAndGlyphs"  stroke="#111" stroke-width="0.22">Pradesh, NL = Nagaland, MN = Manipur, ML</text>
<text x="387.10" y="321.80" font-size="8.8" font-family="Liberation Serif, serif" font-weight="bold" fill="#111" textLength="279.30" lengthAdjust="spacingAndGlyphs"  stroke="#111" stroke-width="0.22">= Meghalaya, TR = Tripura,  MZ = Mizoram</text>
<text x="387.10" y="332.30" font-size="8.8" font-family="Liberation Serif, serif" font-weight="bold" fill="#111" textLength="120.60" lengthAdjust="spacingAndGlyphs"  stroke="#111" stroke-width="0.22">(Places of collection)</text>
<line x1="403.4" y1="373.8" x2="403.4" y2="547.5" stroke="#555" stroke-width="1.2"/>
<line x1="408.6" y1="552.2" x2="682.4" y2="552.2" stroke="#4a4a4a" stroke-width="1.0"/>
<line x1="408.6" y1="533.0" x2="682.4" y2="533.0" stroke="#dadada" stroke-width="0.75"/>
<line x1="403.4" y1="533.00" x2="405.0" y2="533.00" stroke="#555" stroke-width="0.8"/>
<text x="396.40" y="535.15" font-size="6.0" font-family="Liberation Sans, sans-serif" fill="#3c3c3c" textLength="3.90" lengthAdjust="spacingAndGlyphs" >0</text>
<line x1="403.4" y1="510.65" x2="405.0" y2="510.65" stroke="#555" stroke-width="0.8"/>
<text x="388.70" y="512.80" font-size="6.0" font-family="Liberation Sans, sans-serif" fill="#3c3c3c" textLength="11.60" lengthAdjust="spacingAndGlyphs" >100</text>
<line x1="403.4" y1="488.30" x2="405.0" y2="488.30" stroke="#555" stroke-width="0.8"/>
<text x="388.70" y="490.45" font-size="6.0" font-family="Liberation Sans, sans-serif" fill="#3c3c3c" textLength="11.60" lengthAdjust="spacingAndGlyphs" >200</text>
<line x1="403.4" y1="465.95" x2="405.0" y2="465.95" stroke="#555" stroke-width="0.8"/>
<text x="388.70" y="468.10" font-size="6.0" font-family="Liberation Sans, sans-serif" fill="#3c3c3c" textLength="11.60" lengthAdjust="spacingAndGlyphs" >300</text>
<line x1="403.4" y1="443.60" x2="405.0" y2="443.60" stroke="#555" stroke-width="0.8"/>
<text x="388.70" y="445.75" font-size="6.0" font-family="Liberation Sans, sans-serif" fill="#3c3c3c" textLength="11.60" lengthAdjust="spacingAndGlyphs" >400</text>
<line x1="403.4" y1="421.25" x2="405.0" y2="421.25" stroke="#555" stroke-width="0.8"/>
<text x="388.70" y="423.40" font-size="6.0" font-family="Liberation Sans, sans-serif" fill="#3c3c3c" textLength="11.60" lengthAdjust="spacingAndGlyphs" >500</text>
<line x1="403.4" y1="398.90" x2="405.0" y2="398.90" stroke="#555" stroke-width="0.8"/>
<text x="388.70" y="401.05" font-size="6.0" font-family="Liberation Sans, sans-serif" fill="#3c3c3c" textLength="11.60" lengthAdjust="spacingAndGlyphs" >600</text>
<line x1="403.4" y1="376.55" x2="405.0" y2="376.55" stroke="#555" stroke-width="0.8"/>
<text x="388.70" y="378.70" font-size="6.0" font-family="Liberation Sans, sans-serif" fill="#3c3c3c" textLength="11.60" lengthAdjust="spacingAndGlyphs" >700</text>
<line x1="431.2" y1="552.2" x2="431.2" y2="550.6" stroke="#555" stroke-width="0.8"/>
<text x="429.20" y="558.50" font-size="6.1" font-family="Liberation Sans, sans-serif" fill="#333" textLength="4.10" lengthAdjust="spacingAndGlyphs"  stroke="#333" stroke-width="0.05">2</text>
<line x1="463.7" y1="552.2" x2="463.7" y2="550.6" stroke="#555" stroke-width="0.8"/>
<text x="461.70" y="558.50" font-size="6.1" font-family="Liberation Sans, sans-serif" fill="#333" textLength="4.10" lengthAdjust="spacingAndGlyphs"  stroke="#333" stroke-width="0.05">3</text>
<line x1="496.3" y1="552.2" x2="496.3" y2="550.6" stroke="#555" stroke-width="0.8"/>
<text x="494.30" y="558.50" font-size="6.1" font-family="Liberation Sans, sans-serif" fill="#333" textLength="4.10" lengthAdjust="spacingAndGlyphs"  stroke="#333" stroke-width="0.05">4</text>
<line x1="528.8" y1="552.2" x2="528.8" y2="550.6" stroke="#555" stroke-width="0.8"/>
<text x="526.80" y="558.50" font-size="6.1" font-family="Liberation Sans, sans-serif" fill="#333" textLength="4.10" lengthAdjust="spacingAndGlyphs"  stroke="#333" stroke-width="0.05">5</text>
<line x1="561.6" y1="552.2" x2="561.6" y2="550.6" stroke="#555" stroke-width="0.8"/>
<text x="559.60" y="558.50" font-size="6.1" font-family="Liberation Sans, sans-serif" fill="#333" textLength="4.10" lengthAdjust="spacingAndGlyphs"  stroke="#333" stroke-width="0.05">6</text>
<line x1="594.3" y1="552.2" x2="594.3" y2="550.6" stroke="#555" stroke-width="0.8"/>
<text x="592.30" y="558.50" font-size="6.1" font-family="Liberation Sans, sans-serif" fill="#333" textLength="4.10" lengthAdjust="spacingAndGlyphs"  stroke="#333" stroke-width="0.05">7</text>
<line x1="626.8" y1="552.2" x2="626.8" y2="550.6" stroke="#555" stroke-width="0.8"/>
<text x="624.80" y="558.50" font-size="6.1" font-family="Liberation Sans, sans-serif" fill="#333" textLength="4.10" lengthAdjust="spacingAndGlyphs"  stroke="#333" stroke-width="0.05">8</text>
<line x1="659.3" y1="552.2" x2="659.3" y2="550.6" stroke="#555" stroke-width="0.8"/>
<text x="657.30" y="558.50" font-size="6.1" font-family="Liberation Sans, sans-serif" fill="#333" textLength="4.10" lengthAdjust="spacingAndGlyphs"  stroke="#333" stroke-width="0.05">9</text>
<polyline fill="none" stroke="#5252d6" stroke-width="0.8" points="431.2,388.4 463.7,532.6 496.3,532.6 528.8,532.6 561.6,523.4 594.3,533.0 626.8,533.2 659.3,532.6"/>
<circle cx="431.2" cy="388.4" r="1.7" fill="#0a0ab4"/>
<circle cx="463.7" cy="532.6" r="1.7" fill="#0a0ab4"/>
<circle cx="496.3" cy="532.6" r="1.7" fill="#0a0ab4"/>
<circle cx="528.8" cy="532.6" r="1.7" fill="#0a0ab4"/>
<circle cx="561.6" cy="523.4" r="1.7" fill="#0a0ab4"/>
<circle cx="594.3" cy="533.0" r="1.7" fill="#0a0ab4"/>
<circle cx="626.8" cy="533.2" r="1.7" fill="#0a0ab4"/>
<circle cx="659.3" cy="532.6" r="1.7" fill="#0a0ab4"/>
<text x="479.30" y="370.90" font-size="6.8" font-family="Liberation Sans, sans-serif" fill="#3c3c3c" textLength="131.40" lengthAdjust="spacingAndGlyphs" >DeltaK = mean(|L''(K)|) / sd(L(K))</text>
<text transform="translate(385.6,470.8) rotate(-90) scale(1,1.25)" font-size="6.2" font-family="Liberation Sans, sans-serif" fill="#3c3c3c" textLength="20.3" lengthAdjust="spacingAndGlyphs">Delta K</text>
<text x="542.40" y="564.60" font-size="6.0" font-family="Liberation Sans, sans-serif" fill="#3c3c3c" textLength="3.80" lengthAdjust="spacingAndGlyphs" >K</text>
<text x="534.60" y="582.50" font-size="9.0" font-family="Liberation Serif, serif" font-weight="bold" fill="#111" textLength="17.90" lengthAdjust="spacingAndGlyphs"  stroke="#111" stroke-width="0.22">(b)</text>
</g>
</svg>
</body></html>
